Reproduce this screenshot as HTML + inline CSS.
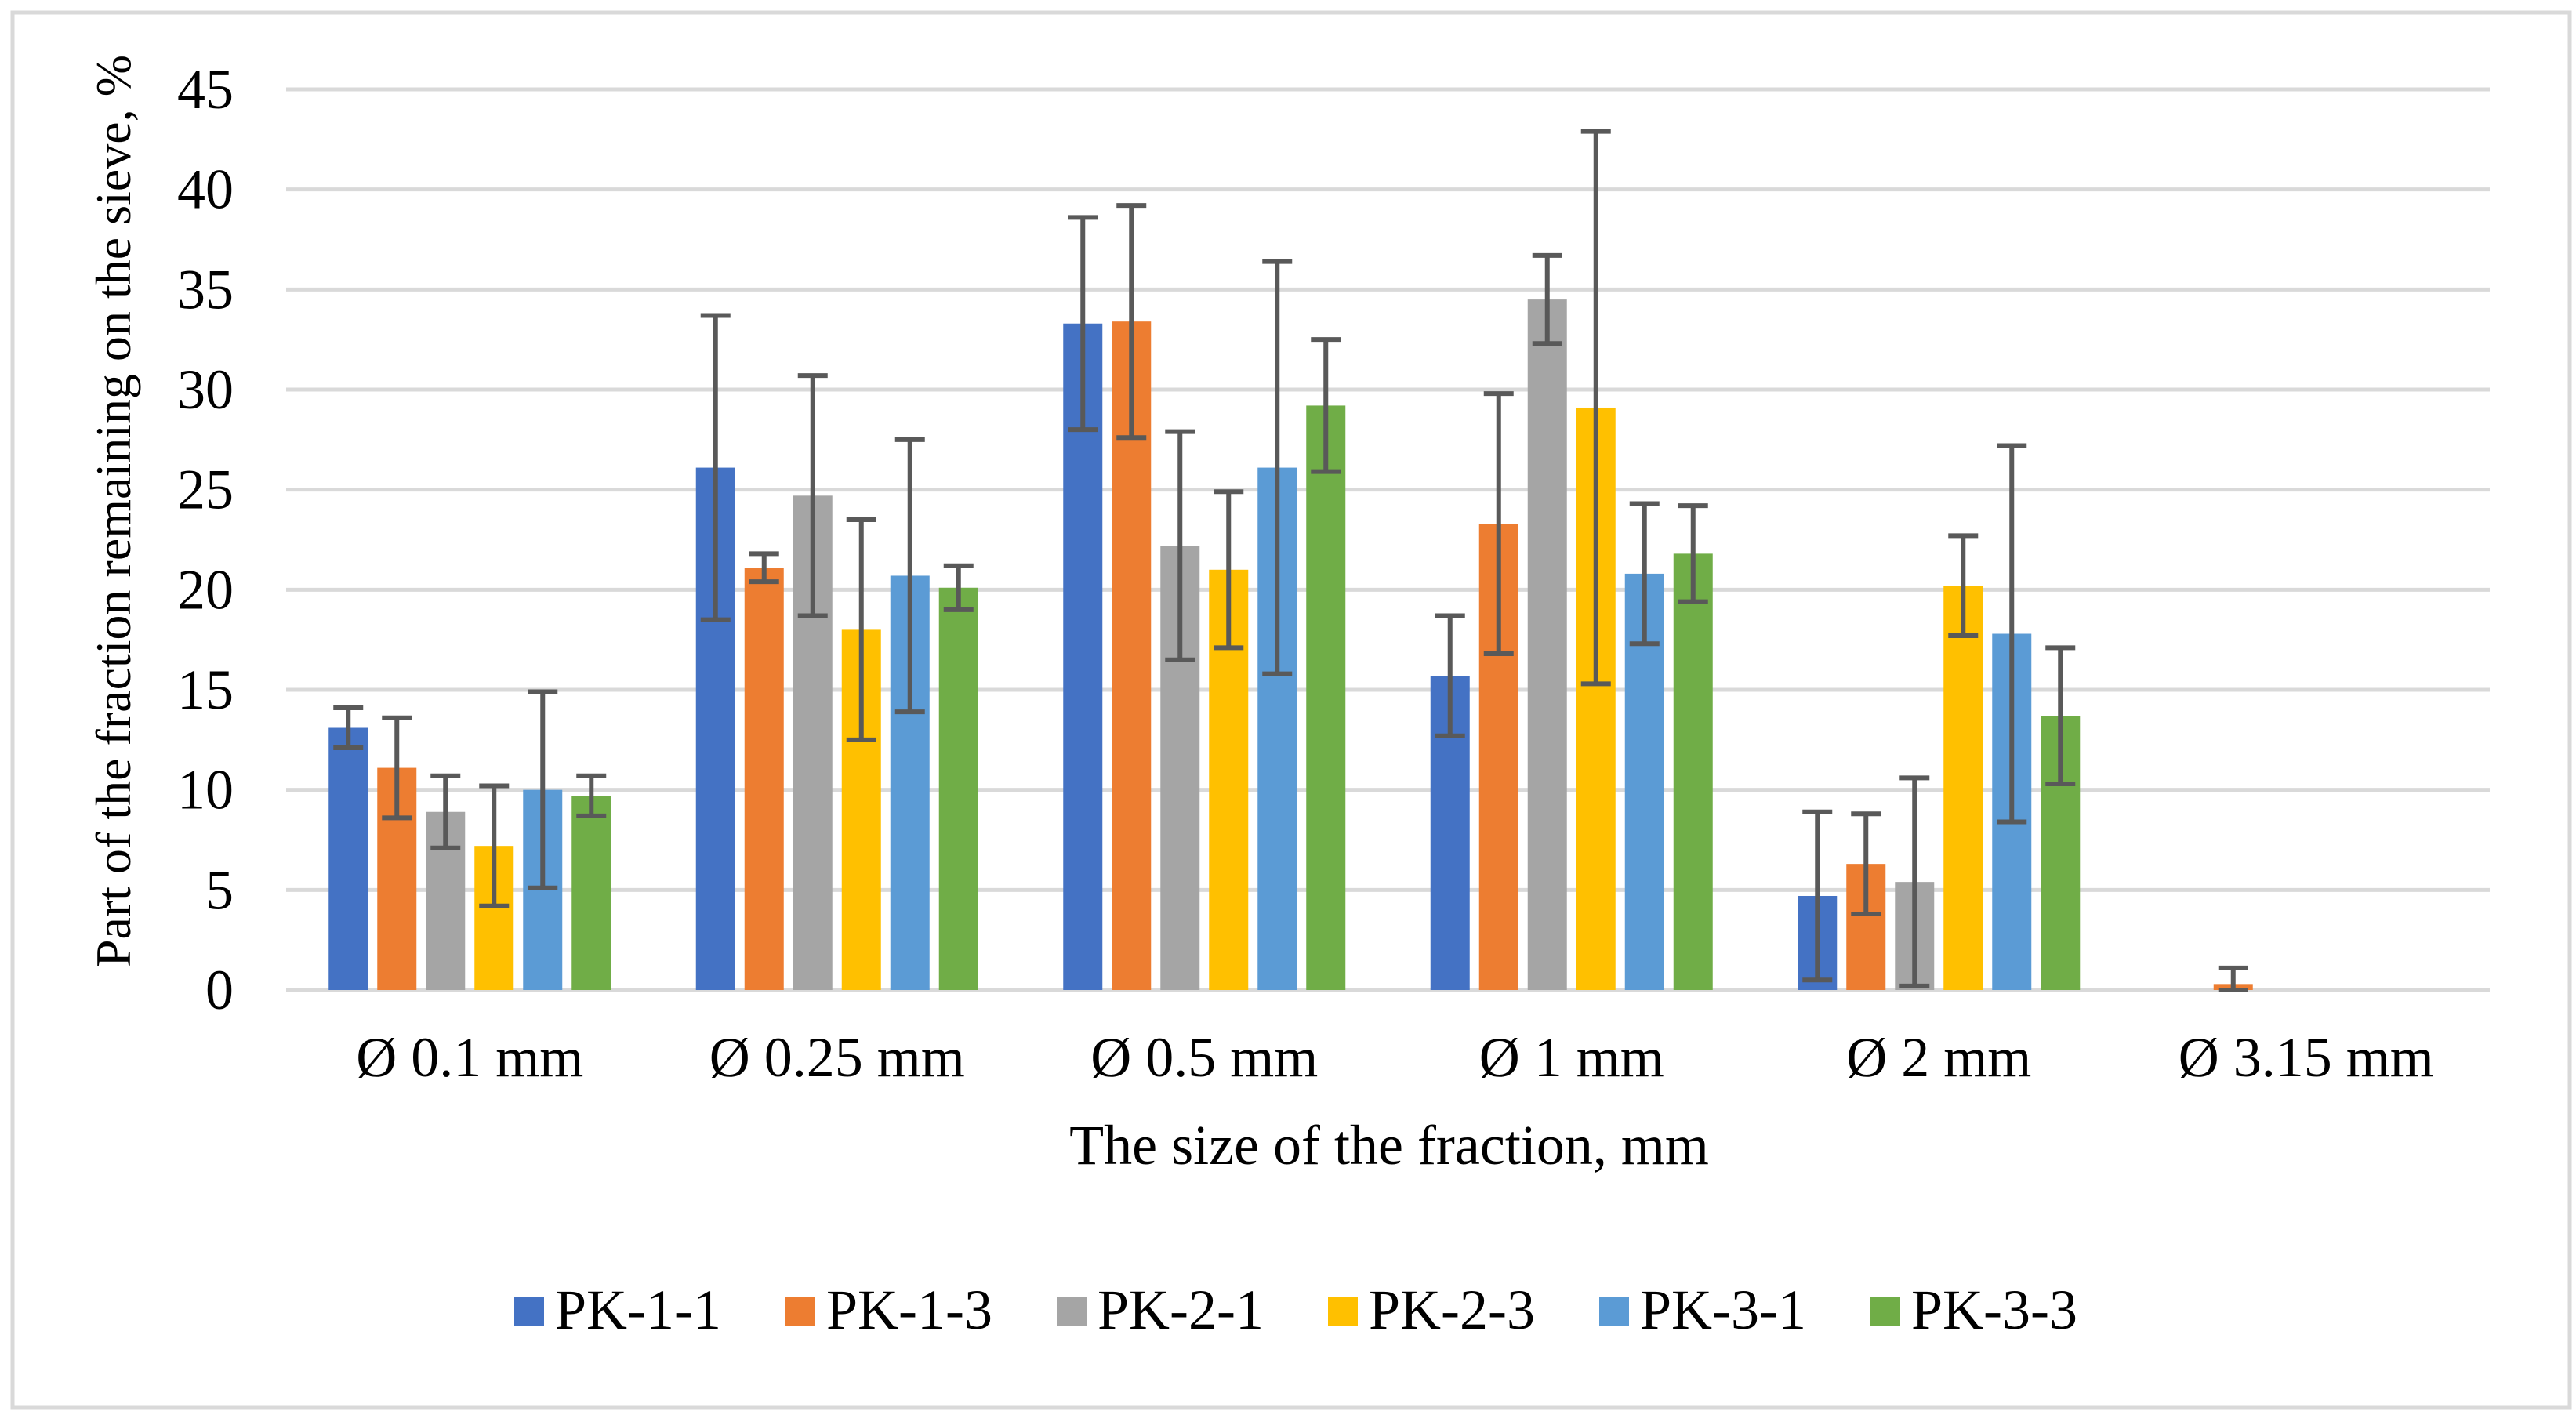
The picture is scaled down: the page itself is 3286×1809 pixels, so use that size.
<!DOCTYPE html>
<html><head><meta charset="utf-8"><style>
html,body{margin:0;padding:0;background:#fff;}
svg{display:block;font-family:"Liberation Serif",serif;}
</style></head><body>
<svg id="chart" width="3286" height="1809" viewBox="0 0 3286 1809" xmlns="http://www.w3.org/2000/svg">
<rect x="16" y="16" width="3262" height="1780" fill="#fff" stroke="#d9d9d9" stroke-width="5"/>
<g id="grid"></g>
<g id="yticks"></g>
<g id="bars"></g>
<g id="errs"></g>
<g id="xcats"></g>
<text transform="translate(166,652) rotate(-90)" text-anchor="middle" font-size="64">Part of the fraction remaining on the sieve, %</text>
<text x="1772" y="1485" text-anchor="middle" font-size="72">The size of the fraction, mm</text>
<g id="legend"></g>
</svg>
<script>
const categories = ["Ø 0.1 mm","Ø 0.25 mm","Ø 0.5 mm","Ø 1 mm","Ø 2 mm","Ø 3.15 mm"];
const seriesNames = ["PK-1-1","PK-1-3","PK-2-1","PK-2-3","PK-3-1","PK-3-3"];
const seriesColors = ["#4472c4","#ed7d31","#a5a5a5","#ffc000","#5b9bd5","#70ad47"];
const pk11 = [13.1, 26.1, 33.3, 15.7, 4.7, 0];
const pk13 = [11.1, 21.1, 33.4, 23.3, 6.3, 0.3];
const pk21 = [8.9, 24.7, 22.2, 34.5, 5.4, 0];
const pk23 = [7.2, 18.0, 21.0, 29.1, 20.2, 0];
const pk31 = [10.0, 20.7, 26.1, 20.8, 17.8, 0];
const pk33 = [9.7, 20.1, 29.2, 21.8, 13.7, 0];
const err11 = [1.0, 7.6, 5.3, 3.0, 4.2, 0];
const err13 = [2.5, 0.7, 5.8, 6.5, 2.5, 0.8];
const err21 = [1.8, 6.0, 5.7, 2.2, 5.2, 0];
const err23 = [3.0, 5.5, 3.9, 13.8, 2.5, 0];
const err31 = [4.9, 6.8, 10.3, 3.5, 9.4, 0];
const err33 = [1.0, 1.1, 3.3, 2.4, 3.4, 0];
const yTicks = [0,5,10,15,20,25,30,35,40,45];

const seriesValues = [pk11,pk13,pk21,pk23,pk31,pk33];
const seriesErrors = [err11,err13,err21,err23,err31,err33];
const NS="http://www.w3.org/2000/svg";
const X0=365, X1=3176, Y0=1263, Y45=114;
const yMax=45;
function yScale(v){return Y0-(v/yMax)*(Y0-Y45);}
const groupW=(X1-X0)/categories.length;
const barW=50, barStep=62;
function xBar(g,s){return X0+groupW*(g+0.5)+(s-(seriesNames.length-1)/2)*barStep;}
function mk(tag,attrs,parent){const e=document.createElementNS(NS,tag);for(const k in attrs)e.setAttribute(k,attrs[k]);parent.appendChild(e);return e;}

const grid=document.getElementById('grid'), yt=document.getElementById('yticks');
yTicks.forEach(t=>{
  const l=mk('line',{x1:X0,x2:X1,y1:yScale(t),y2:yScale(t),stroke:'#d9d9d9','stroke-width':5},grid);
  
  
  const tx=mk('text',{x:298,y:yScale(t)+24,'text-anchor':'end','font-size':72},yt);
  tx.textContent=t;
  
  
});
const bars=document.getElementById('bars'), errs=document.getElementById('errs');
seriesValues.forEach((vals,s)=>{
  vals.forEach((v,g)=>{
    const cx=xBar(g,s);
    if(v>0){
      const r=mk('rect',{x:cx-barW/2,y:yScale(v),width:barW,height:Y0-yScale(v),fill:seriesColors[s]},bars);
      
      
    }
    const e=seriesErrors[s][g];
    if(e>0){
      const lo=Math.max(0,v-e), hi=v+e;
      const eg=mk('g',{stroke:'#595959','stroke-width':6},errs);
      
      
      mk('line',{x1:cx,x2:cx,y1:yScale(hi),y2:yScale(lo)},eg);
      mk('line',{x1:cx-19,x2:cx+19,y1:yScale(hi),y2:yScale(hi)},eg);
      mk('line',{x1:cx-19,x2:cx+19,y1:yScale(lo),y2:yScale(lo)},eg);
    }
  });
});
const xc=document.getElementById('xcats');
categories.forEach((c,g)=>{
  const t=mk('text',{x:X0+groupW*(g+0.5),y:1373,'text-anchor':'middle','font-size':72},xc);
  t.textContent=c;
  
  
});
const lg=document.getElementById('legend');
seriesNames.forEach((n,s)=>{
  const lx=656+s*346;
  const it=mk('g',{},lg);
  
  
  mk('rect',{x:lx,y:1654,width:38,height:38,fill:seriesColors[s]},it);
  const t=mk('text',{x:lx+52,y:1695,'font-size':72},it);
  t.textContent=n;
});
</script>
</body></html>
